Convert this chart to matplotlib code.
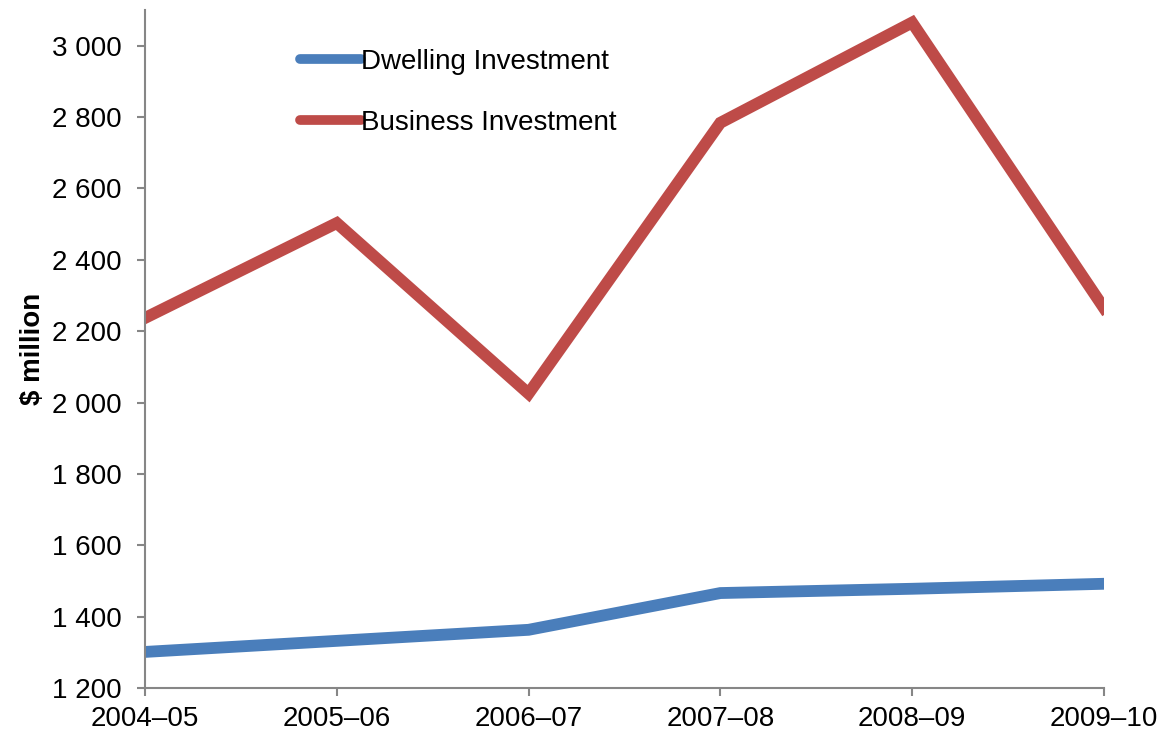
import matplotlib
matplotlib.use('Agg')
import matplotlib.pyplot as plt
from matplotlib.ticker import FuncFormatter

plt.rcParams['font.family'] = ['Liberation Sans', 'DejaVu Sans']

# Data
years = ['2004\u201305', '2005\u201306', '2006\u201307', '2007\u201308', '2008\u201309', '2009\u201310']
dwelling = [1301, 1332, 1363, 1466, 1478, 1492]
business = [2237, 2503, 2025, 2784, 3065, 2265]

fig = plt.figure(figsize=(11.62, 7.38), dpi=100)
ax = fig.add_axes([0.1248, 0.0678, 0.8252, 0.9186])

x = range(len(years))
ax.plot(x, dwelling, color='#4A7EBB', lw=8.5, label='Dwelling Investment', solid_joinstyle='miter')
ax.plot(x, business, color='#BE4B48', lw=8.5, label='Business Investment', solid_joinstyle='miter')

ax.set_xlim(0, len(years) - 1)
ax.set_ylim(1200, 3100)
ax.set_yticks(range(1200, 3001, 200))
ax.yaxis.set_major_formatter(FuncFormatter(lambda v, p: f'{int(v):,}'.replace(',', ' ')))
ax.set_xticks(list(x))
ax.set_xticklabels(years)

for s in ['top', 'right']:
    ax.spines[s].set_visible(False)
for s in ['left', 'bottom']:
    ax.spines[s].set_color('#868686')
    ax.spines[s].set_linewidth(1.5)
ax.tick_params(axis='both', colors='#868686', labelcolor='black', labelsize=20, width=1.5, length=6)
ax.tick_params(axis='x', pad=7)
ax.tick_params(axis='y', pad=11)

ax.set_ylabel('$ million', fontsize=20, fontweight='bold', labelpad=4)

leg = ax.legend(loc='upper left', bbox_to_anchor=(300 / 1162, 1 - 49 / 738), bbox_transform=fig.transFigure,
                frameon=False, fontsize=20, handlelength=2.2, handletextpad=0.0,
                labelspacing=1.25, borderaxespad=0, borderpad=0)
for h in leg.get_lines():
    h.set_solid_capstyle('round')
    h.set_linewidth(7)

fig.savefig('out.png', dpi=100)
